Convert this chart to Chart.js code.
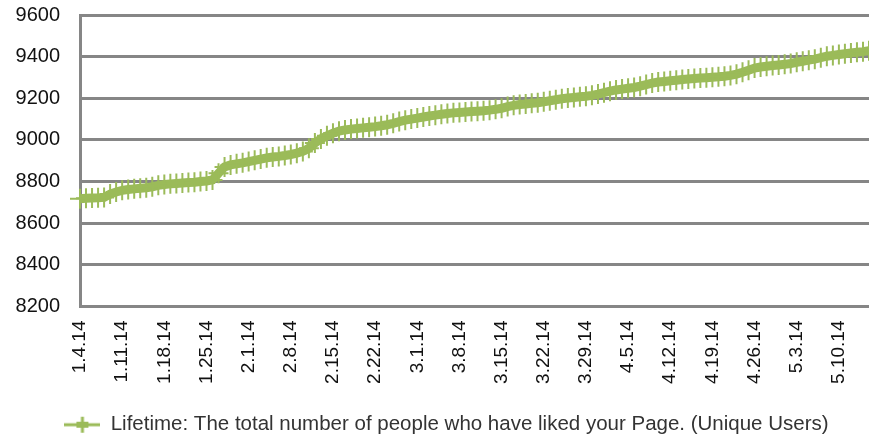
<!DOCTYPE html>
<html lang="en">
<head>
    <meta charset="UTF-8">
    <title>Lifetime likes</title>
    <script src="https://cdn.jsdelivr.net/npm/chart.js"></script>
    <style>
        html, body { margin: 0; padding: 0; background: #ffffff; }
        #wrap { width: 869px; height: 439px; }
    </style>
</head>
<body>
    <div id="wrap"><canvas id="likesChart"></canvas></div>

    <script>
        // daily data, 1.4.14 .. 5.15.14
        const startDate = new Date(2014, 0, 4);
        const dayCount = 132;
        const dates = [];
        for (let i = 0; i < dayCount; i++) {
            const d = new Date(startDate.getTime() + i * 86400000);
            dates.push((d.getMonth() + 1) + '.' + d.getDate() + '.14');
        }

        const likes = [
            8718, 8720, 8721, 8722, 8724,
            8740, 8750,
            8758, 8762, 8765, 8768, 8770, 8775,
            8782, 8786, 8789, 8791, 8793, 8795, 8797, 8800, 8803, 8808,
            8840, 8870,
            8880, 8885, 8890, 8896, 8902, 8908, 8914,
            8918, 8921, 8925, 8930, 8936, 8945, 8960,
            8985, 9005, 9020, 9032, 9042, 9048,
            9052, 9055, 9058, 9061, 9064, 9068, 9073, 9080, 9088,
            9095, 9100, 9105, 9110, 9115, 9119, 9123, 9127, 9130, 9132,
            9134, 9136, 9138, 9140, 9143, 9147, 9152, 9160,
            9166, 9170, 9173, 9176, 9179, 9183, 9188, 9193, 9198,
            9201, 9204, 9207, 9210, 9214, 9220, 9227, 9234,
            9240, 9244, 9248, 9252, 9258, 9266, 9273,
            9278, 9281, 9284, 9287, 9290, 9293,
            9295, 9297, 9299, 9301, 9303, 9306, 9310, 9316,
            9325, 9335, 9345,
            9350, 9354, 9357, 9360, 9363, 9367,
            9373, 9378, 9383, 9388, 9395,
            9402, 9406, 9410, 9414, 9418, 9421, 9424, 9428
        ];

        const yMin = 8200;
        const yMax = 9600;
        const yStep = 200;
        const seriesLabel = 'Lifetime: The total number of people who have liked your Page. (Unique Users)';

        const green = '#9BBB59';
        const gridGray = '#868686';

        // legend icon: line with a plus marker, like Excel
        const legendIcon = document.createElement('canvas');
        legendIcon.width = 36;
        legendIcon.height = 18;
        const ic = legendIcon.getContext('2d');
        ic.strokeStyle = green;
        ic.lineWidth = 3;
        ic.beginPath();
        ic.moveTo(0, 9); ic.lineTo(36, 9);
        ic.moveTo(18, 1); ic.lineTo(18, 17);
        ic.stroke();
        ic.fillStyle = green;
        ic.fillRect(12, 6, 12, 6);

        // nudge the legend, the Excel legend sits a bit off centre and low
        const legendShift = {
            id: 'legendShift',
            afterLayout(chart) {
                chart.legend.left += 12;
                chart.legend.right += 12;
                chart.legend.top += 6;
                chart.legend.bottom += 6;
            }
        };

        new Chart(document.getElementById('likesChart'), {
            type: 'line',
            data: {
                labels: dates,
                datasets: [{
                    label: seriesLabel,
                    data: likes,
                    borderColor: green,
                    backgroundColor: green,
                    borderWidth: 9,
                    pointStyle: 'cross',
                    pointRadius: 10,
                    pointBorderWidth: 2,
                    pointBorderColor: green,
                    tension: 0,
                    fill: false
                }]
            },
            options: {
                responsive: true,
                maintainAspectRatio: false,
                animation: false,
                layout: { padding: 0, autoPadding: false },
                plugins: {
                    tooltip: { enabled: false },
                    legend: {
                        position: 'bottom',
                        labels: {
                            usePointStyle: true,
                            pointStyle: legendIcon,
                            pointStyleWidth: 36,
                            color: '#333333',
                            font: { family: 'Liberation Sans', size: 20.5 },
                            padding: 0
                        }
                    }
                },
                scales: {
                    x: {
                        grid: { display: false },
                        border: { color: gridGray, width: 3 },
                        afterFit: function (scale) {
                            scale.height = 102;
                            scale.paddingLeft = 0;
                            scale.paddingRight = 0;
                        },
                        ticks: {
                            autoSkip: false,
                            maxRotation: 90,
                            minRotation: 90,
                            padding: 6,
                            color: '#111111',
                            font: { family: 'Liberation Sans', size: 19 },
                            callback: function (value, index) {
                                return index % 7 === 0 ? dates[index] : null;
                            }
                        }
                    },
                    y: {
                        min: yMin,
                        max: yMax,
                        afterFit: function (scale) {
                            scale.width = 80;
                            scale.paddingTop = 15;
                        },
                        grid: { color: gridGray, lineWidth: 3, drawTicks: false },
                        border: { color: gridGray, width: 3 },
                        ticks: {
                            stepSize: yStep,
                            padding: 20,
                            color: '#111111',
                            font: { family: 'Liberation Sans', size: 20 },
                            callback: function (value) { return String(value); }
                        }
                    }
                }
            },
            plugins: [legendShift]
        });
    </script>
</body>
</html>
